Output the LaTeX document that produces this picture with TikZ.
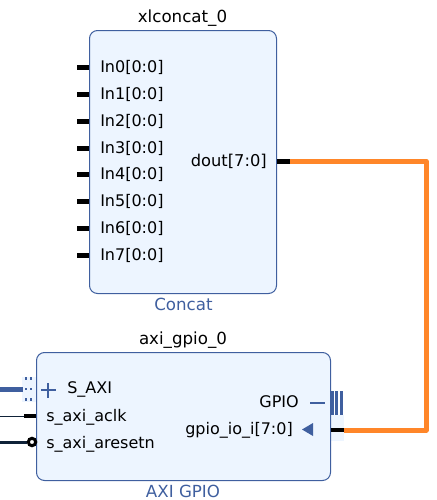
\documentclass[tikz,border=0pt]{standalone}
\usepackage{fontspec}
\setmainfont{DejaVu Sans}
\definecolor{blockfill}{HTML}{EDF5FF}
\definecolor{blockline}{HTML}{3F5F9F}
\definecolor{ifcblue}{HTML}{3F5F9F}
\definecolor{wireorange}{HTML}{FF8629}
\definecolor{darkwire}{HTML}{0F2238}
\tikzset{
  x=0.75pt,y=-0.75pt,
  block/.style={draw=blockline,fill=blockfill,line width=0.75pt,rounded corners=6pt,inner sep=0pt,anchor=north west},
  lbl/.style={font=\fontsize{12pt}{14pt}\selectfont,text=black,inner sep=0pt},
  pinl/.style={lbl,anchor=base west},
  pinr/.style={lbl,anchor=base east},
  title/.style={lbl,anchor=base,font=\fontsize{12.5pt}{15pt}\selectfont},
  subtitle/.style={title,text=blockline},
  stub/.style={black,line width=3.75pt},
}
\begin{document}
\begin{tikzpicture}
\useasboundingbox (0,0) rectangle (436,500);
% soft backing of port areas
\fill[blockfill] (22,377) rectangle (36,402);
\fill[blockfill] (331,415) rectangle (344,441);
% blocks
\node[block,minimum width=140.25pt,minimum height=197.25pt] (concat) at (89,30) {};
\node[block,minimum width=220.5pt,minimum height=96pt] (gpio) at (36,352) {};
% titles
\node[title] (t1) at (182.5,22.5) {xlconcat\_0};
\node[subtitle] (s1) at (183.5,310) {Concat};
\node[title] (t2) at (183,344) {axi\_gpio\_0};
\node[subtitle] (s2) at (183,497) {AXI GPIO};
% concat inputs
\foreach \n/\y in {0/67,1/94,2/121,3/148,4/174,5/201,6/228,7/255}{
  \coordinate (a\n) at (77,\y);
  \draw[stub] (a\n) -- (concat.west |- a\n);
  \node[pinl] (in\n) at (100,\y+5) {In\n[0:0]};
}
\node[pinr,font=\fontsize{12.2pt}{14pt}\selectfont] (dout) at (267,166) {dout[7:0]};
% orange net
\coordinate (dstart) at (277,161);
\coordinate (dend) at (290,161);
\coordinate (gend) at (344,430);
\coordinate (gstart) at (331,430);
\draw[stub] (dstart) -- (dend);
\draw[black,line width=3pt] (gstart) -- (gend);
\draw[wireorange,line width=3.75pt,line join=round] (dend) -- (426,161) -- (426,430) -- (gend);
% gpio left ports
\coordinate (saxi) at (0,389.5);
\coordinate (saxip) at (23,389.5);
\draw[ifcblue,line width=3.75pt] (saxi) -- (saxip);
\foreach \x in {26,30.7}{
  \fill[ifcblue] (\x-1,377) rectangle (\x+1,380);
  \fill[ifcblue] (\x-1,388) rectangle (\x+1,390);
  \fill[ifcblue] (\x-1,398) rectangle (\x+1,401);
}
\draw[ifcblue,line width=1.5pt] (41,390) -- (56,390) (48,383) -- (48,398);
\node[pinl] (psaxi) at (67,393.5) {S\_AXI};
\coordinate (clk0) at (0,416);
\coordinate (clk1) at (24,416);
\draw[darkwire,line width=0.75pt] (clk0) -- (clk1);
\draw[black,line width=3pt] (clk1) -- (gpio.west |- clk1);
\node[pinl] (pclk) at (46,421) {s\_axi\_aclk};
\coordinate (rst0) at (0,442);
\coordinate (rst1) at (27,442);
\draw[darkwire,line width=2.25pt] (rst0) -- (rst1);
\draw[black,line width=2.25pt,fill=white] (32,442) circle (3.7);
\node[pinl] (prst) at (46,448) {s\_axi\_aresetn};
% gpio right ports
\node[pinr] (pgpio) at (299,407.5) {GPIO};
\draw[ifcblue,line width=1.5pt] (310,402.7) -- (325,402.7);
\foreach \x in {332.6,336.8,341.5}{\draw[ifcblue,line width=2.5pt] (\x,391) -- (\x,415);}
\node[pinr] (pio) at (293,434) {gpio\_io\_i[7:0]};
\fill[ifcblue] (302,429.5) -- (313,423) -- (313,436) -- cycle;
\end{tikzpicture}
\end{document}
